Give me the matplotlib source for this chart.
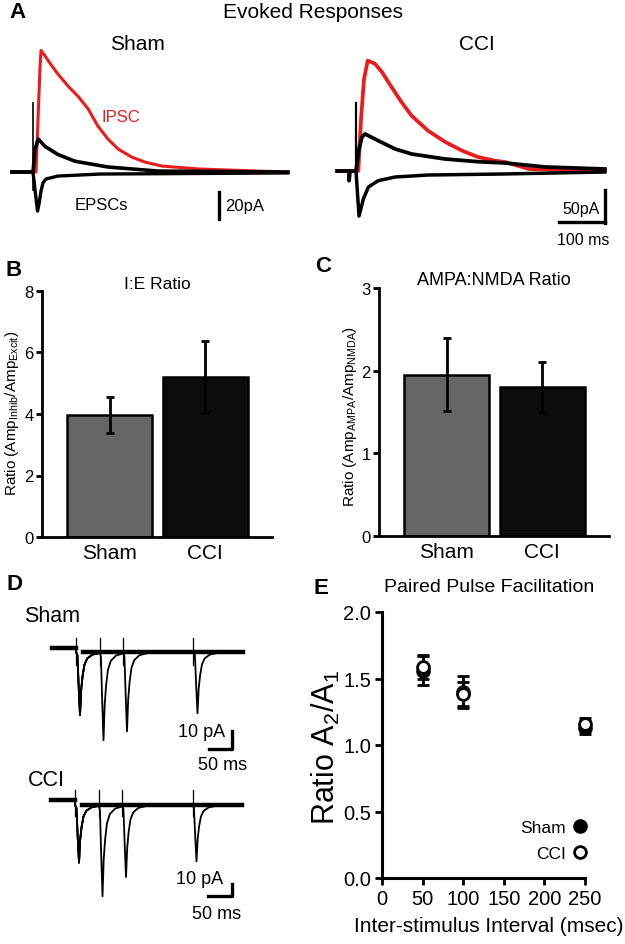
import numpy as np
import matplotlib
matplotlib.use("Agg")
import matplotlib.pyplot as plt

plt.rcParams['font.family'] = ['Liberation Sans', 'DejaVu Sans']
plt.rcParams['mathtext.fontset'] = 'custom'
plt.rcParams['mathtext.rm'] = 'Liberation Sans'
plt.rcParams['mathtext.it'] = 'Liberation Sans:italic'

RED = '#ec1c1c'

# ---------------- data
# A: evoked responses, time (ms) / current (pA)
sham_ipsc_t = [-46, 0, 6.5, 10.9, 15, 17.4, 26, 40.7, 54, 76, 98, 120, 141, 163, 185,
               215, 243, 280, 363, 489, 554]
sham_ipsc_a = [0, 0, 0, 39, 76, 90, 86, 78.7, 72.6, 63.7, 56, 46.7, 34, 24.4, 17,
               11, 7.4, 4.4, 2.2, 0.7, 0]
sham_nmda_t = [-46, 0, 4.3, 11.5, 26, 54, 91, 163, 272, 554]
sham_nmda_a = [0, 0, 17, 24.4, 19, 13, 8, 3.7, 0.7, 0]
sham_ampa_t = [-46, 0, 5.4, 9.8, 13, 17.4, 21.7, 28, 54, 146, 554]
sham_ampa_a = [0, 0, -16.3, -28.9, -23.7, -14, -8.1, -5.2, -3, -1.5, -0.7]
sham_artifact = [51, -13]

cci_ipsc_t = [-41, 0, 5, 10.9, 17.4, 25.4, 41, 56, 77.6, 99, 121, 156.5, 193.5, 230,
              265, 302, 324, 376, 541]
cci_ipsc_a = [0, 0, 0, 84, 148, 178, 173, 160, 135, 111, 89, 65, 47, 33,
              22.6, 16.6, 14.5, 3.2, 0]
cci_nmda_t = [-41, -15, -15, -13, 0, 6.5, 13, 19.6, 48, 85, 121, 193, 265, 324, 411, 541]
cci_nmda_a = [0, 0, -15.6, 0, 0, 35.5, 55, 59.7, 49, 35.5, 27.4, 19.4, 15, 12.9, 6.5, 3.2]
cci_ampa_t = [0, 3.3, 6.5, 16, 27, 48, 85, 156, 324, 541]
cci_ampa_a = [0, -37, -72.6, -45, -25.8, -15.7, -9.7, -6.5, -4.8, -1.6]
cci_artifact = [110, 0]

# B: I:E ratio
groups = ['Sham', 'CCI']
ie_mean = [3.97, 5.2]
ie_err = [0.58, 1.18]
# C: AMPA:NMDA ratio
an_mean = [1.95, 1.80]
an_err = [0.44, 0.30]

# D: paired pulse traces
ppf_intervals = [50, 100, 250]
dip_t = [0, 3, 6, 8.5, 11, 14, 18, 24, 35, 60]
dip_f = [0, 0.05, 0.6, 1.0, 0.6, 0.38, 0.2, 0.1, 0.04, 0]
sham_pp_a1 = 35
sham_pp_a2 = [49, 44, 34]
cci_pp_a1 = 48
cci_pp_a2 = [76, 60, 47]

# E: paired pulse facilitation
isi = [50, 100, 250]
sham_ppr = [1.56, 1.40, 1.13]
sham_ppr_err = [0.11, 0.12, 0.05]
cci_ppr = [1.59, 1.38, 1.16]
cci_ppr_err = [0.09, 0.09, 0.04]

W, H = 625, 945
fig = plt.figure(figsize=(W / 100, H / 100), dpi=100)


def px_axes(x0, y0, x1, y1):
    return fig.add_axes([x0 / W, 1 - y1 / H, (x1 - x0) / W, (y1 - y0) / H])


def ftext(x, y, s, **kw):
    kw.setdefault('ha', 'center')
    kw.setdefault('va', 'center')
    fig.text(x / W, 1 - y / H, s, **kw)


# ---------------- panel A
ax = px_axes(5, 45, 300, 230)
ax.plot(sham_ipsc_t, sham_ipsc_a, color=RED, lw=2.2)
ax.plot(sham_nmda_t, sham_nmda_a, color='k', lw=2.6)
ax.plot(sham_ampa_t, sham_ampa_a, color='k', lw=2.4)
ax.plot([0, 0], sham_artifact, color='k', lw=1.2)
ax.plot([404, 404], [-14.8, -34.8], color='k', lw=2.4, clip_on=False)
ax.text(418, -25, '20pA', fontsize=12, va='center')
ax.text(192, 41, 'IPSC', color=RED, fontsize=12, ha='center', va='center')
ax.text(148, -24, 'EPSCs', fontsize=12, ha='center', va='center')
ax.set_xlim(-60.9, 580.4)
ax.set_ylim(-42.2, 94.8)
ax.axis('off')

ax = px_axes(320, 45, 620, 250)
ax.plot(cci_ipsc_t, cci_ipsc_a, color=RED, lw=2.7)
ax.plot(cci_nmda_t, cci_nmda_a, color='k', lw=2.7)
ax.plot(cci_ampa_t, cci_ampa_a, color='k', lw=2.5)
ax.plot([0, 0], cci_artifact, color='k', lw=1.6)
ax.plot([441, 541], [-82, -82], color='k', lw=2.4, clip_on=False)
ax.plot([541, 541], [-83.5, -30], color='k', lw=2.4, clip_on=False, zorder=5)
ax.text(530, -61, '50pA', fontsize=11.5, ha='right', va='center')
ax.text(493, -110, '100 ms', fontsize=11.5, ha='center', va='center')
ax.set_xlim(-78.3, 573.9)
ax.set_ylim(-125.8, 204.8)
ax.axis('off')

ftext(17, 13, 'A', fontsize=16, fontweight='bold')
ftext(313, 12, 'Evoked Responses', fontsize=15)
ftext(137, 44, 'Sham', fontsize=15)
ftext(477, 44, 'CCI', fontsize=15)


# ---------------- panels B and C
def bar_panel(box, means, errs, ymax, yticks, title, ylabel, lab_xy, tsize):
    ax = px_axes(*box)
    x = np.arange(len(groups))
    ax.bar(x, means, width=0.89, color=['#666666', '#0c0c0c'],
           edgecolor='k', linewidth=1.8, zorder=2)
    ax.errorbar(x, means, yerr=errs, fmt='none', ecolor='k',
                elinewidth=2, capsize=3, capthick=2, zorder=3)
    ax.set_xlim(-0.707, 1.70)
    ax.set_ylim(0, ymax)
    ax.set_yticks(yticks)
    ax.set_xticks(x)
    ax.set_xticklabels(groups, fontsize=15)
    ax.tick_params(axis='x', length=0, pad=4)
    ax.tick_params(axis='y', labelsize=12, width=2, length=4, pad=2)
    for s in ['top', 'right']:
        ax.spines[s].set_visible(False)
    for s in ['left', 'bottom']:
        ax.spines[s].set_linewidth(2)
    ax.set_title(title, fontsize=tsize, pad=-5)
    ftext(lab_xy[0], lab_xy[1], ylabel, fontsize=11, rotation=90)
    return ax


bar_panel((42, 292, 272, 538), ie_mean, ie_err, 8, [0, 2, 4, 6, 8], 'I:E Ratio',
          r'Ratio (Amp$_{\mathrm{Inhib}}$/Amp$_{\mathrm{Excit}}$)', (12, 413), 12.5)
bar_panel((379, 289, 609, 537), an_mean, an_err, 3, [0, 1, 2, 3], 'AMPA:NMDA Ratio',
          r'Ratio (Amp$_{\mathrm{AMPA}}$/Amp$_{\mathrm{NMDA}}$)', (350, 417), 13)
ftext(14, 270, 'B', fontsize=16, fontweight='bold')
ftext(323, 267, 'C', fontsize=16, fontweight='bold')


# ---------------- panel D
def pp_trace(interval, a1, a2, pre, post, t0, t1):
    ts, ys = [t0, 0], [pre, pre]
    for stim, amp in [(0, a1), (interval, a2)]:
        for dt, f in zip(dip_t, dip_f):
            t = stim + dt
            if stim == 0 and t >= interval:
                break
            ts.append(t)
            ys.append(post - amp * f)
    ts.append(t1)
    ys.append(post)
    return ts, ys


def pp_panel(box, a1, a2s, pre, post, art, xlim, ylim, bar_x, bar_y, txt):
    ax = px_axes(*box)
    t0, t1 = -51, 355
    for iv, a2 in zip(ppf_intervals, a2s):
        ts, ys = pp_trace(iv, a1, a2, pre, post, t0, t1)
        ax.plot(ts, ys, color='k', lw=1.3)
    ax.plot([t0, 0], [pre, pre], color='k', lw=3.2)
    ax.plot([14, t1], [post, post], color='k', lw=3.2)
    for st in [0] + ppf_intervals:
        ax.plot([st, st], art, color='k', lw=0.9)
    ax.plot([bar_x - 50, bar_x, bar_x], [bar_y, bar_y, bar_y + 10], color='k', lw=2.4)
    ax.text(txt[0], txt[1], '10 pA', fontsize=13, ha='right', va='center')
    ax.text(txt[2], txt[3], '50 ms', fontsize=13, ha='center', va='center')
    ax.set_xlim(*xlim)
    ax.set_ylim(*ylim)
    ax.axis('off')


pp_panel((40, 625, 260, 775), sham_pp_a1, sham_pp_a2, 0.5, -1.7, [6, -9],
         (-76.6, 391.5), (-69.4, 13.9), 332, -55.6, (318, -46, 311, -64))
pp_panel((40, 780, 260, 930), cci_pp_a1, cci_pp_a2, 1.7, -2.5, [10, -12],
         (-74.5, 393.6), (-105.8, 19.2), 334, -78.3, (316, -64, 302, -93.3))
ftext(15, 585, 'D', fontsize=16, fontweight='bold')
ftext(24, 617, 'Sham', fontsize=15.5, ha='left')
ftext(28, 781, 'CCI', fontsize=15.5, ha='left')

# ---------------- panel E
ax = px_axes(382, 613, 585, 879)
ax.errorbar(isi, sham_ppr, yerr=sham_ppr_err, fmt='o', color='k', ms=8.5,
            mec='k', mew=2, elinewidth=2, capsize=4, capthick=2,
            label='Sham', clip_on=False, zorder=3)
ax.errorbar(isi, cci_ppr, yerr=cci_ppr_err, fmt='o', color='k', ms=8.5,
            mfc='white', mec='k', mew=2, elinewidth=2, capsize=4, capthick=2,
            label='CCI', clip_on=False, zorder=4)
ax.set_xlim(0, 250)
ax.set_ylim(0, 2.0)
ax.set_xticks([0, 50, 100, 150, 200, 250])
ax.set_yticks([0, 0.5, 1.0, 1.5, 2.0])
ax.set_yticklabels(['0.0', '0.5', '1.0', '1.5', '2.0'])
ax.tick_params(labelsize=14.5, width=2, length=5, pad=3)
for s in ['top', 'right']:
    ax.spines[s].set_visible(False)
for s in ['left', 'bottom']:
    ax.spines[s].set_linewidth(2.2)
handles, labels = ax.get_legend_handles_labels()
leg = ax.legend([h[0] for h in handles], labels, loc='lower right',
                bbox_to_anchor=(1.034, 0.038), borderaxespad=0, frameon=False,
                markerfirst=False, fontsize=12.5, handlelength=0.6,
                handletextpad=0.5, labelspacing=0.6)
ftext(321, 588, 'E', fontsize=16, fontweight='bold')
ftext(489, 588, 'Paired Pulse Facilitation', fontsize=14)
ftext(326, 747, r'Ratio A$_{\mathrm{2}}$/A$_{\mathrm{1}}$', fontsize=22, rotation=90)
ftext(489, 927, 'Inter-stimulus Interval (msec)', fontsize=15)

fig.savefig('out.png', dpi=100)
